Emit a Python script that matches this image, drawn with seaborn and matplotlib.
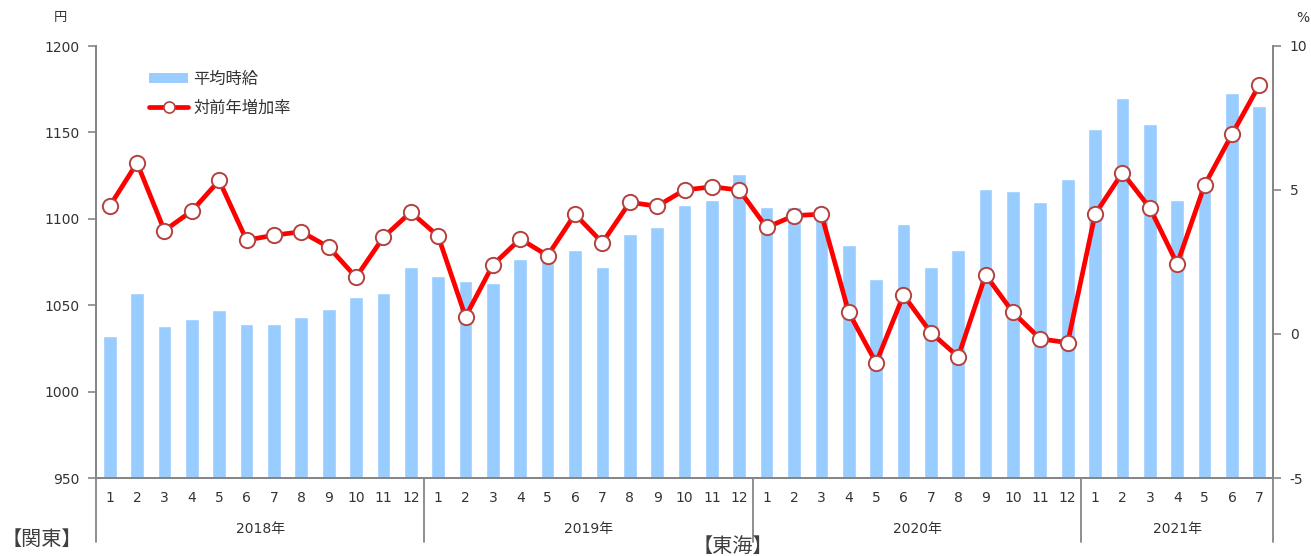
import numpy as np
import pandas as pd
import matplotlib
matplotlib.use("Agg")
import matplotlib.pyplot as plt
import matplotlib.transforms as mtransforms
from matplotlib.lines import Line2D
from matplotlib.patches import Patch
import seaborn as sns

# ---- data ----
years = ["2018年", "2019年", "2020年", "2021年"]
months_per_year = [12, 12, 12, 7]
month_labels = [str(m) for n in months_per_year for m in range(1, n + 1)]
category = [f"{y}-{m}" for y, n in zip(years, months_per_year) for m in range(1, n + 1)]

wage = [1032, 1057, 1038, 1042, 1047, 1039, 1039, 1043, 1048, 1055, 1057, 1072,
        1067, 1064, 1063, 1077, 1078, 1082, 1072, 1091, 1095, 1108, 1111, 1126,
        1107, 1107, 1107, 1085, 1065, 1097, 1072, 1082, 1117, 1116, 1110, 1123,
        1152, 1170, 1155, 1111, 1118, 1173, 1165]

growth = [4.44, 5.94, 3.59, 4.27, 5.33, 3.26, 3.43, 3.55, 3.02, 1.97, 3.36, 4.23,
          3.40, 0.60, 2.40, 3.30, 2.72, 4.16, 3.17, 4.57, 4.44, 5.00, 5.11, 5.00,
          3.70, 4.11, 4.16, 0.75, -1.00, 1.35, 0.05, -0.79, 2.05, 0.75, -0.17, -0.30,
          4.16, 5.60, 4.38, 2.43, 5.17, 6.93, 8.65]

left_ticks = [950, 1000, 1050, 1100, 1150, 1200]
right_ticks = [-5, 0, 5, 10]
legend_labels = ["平均時給", "対前年増加率"]

# ---- style ----
sns.set_theme(style="white")
plt.rcParams["font.family"] = ["DejaVu Sans", "Noto Sans CJK JP"]

BAR_C = "#99CCFF"
LINE_C = "#FF0000"
EDGE_C = "#B5413F"
GRAY = "#868686"
TXT = "#333333"
FS = 10

fig = plt.figure(figsize=(13.11, 5.56), dpi=100)
ax = fig.add_axes([96 / 1311, (556 - 478) / 556, (1273 - 96) / 1311, (478 - 46) / 556])

df = pd.DataFrame({"cat": category, "wage": wage, "growth": growth,
                   "pos": np.arange(len(category))})

sns.barplot(data=df, x="cat", y="wage", color=BAR_C, saturation=1, width=0.5,
            ax=ax, order=category)
ax.set_ylim(950, 1200)
ax.set_xlim(-0.5, len(category) - 0.5)
ax.set_yticks(left_ticks)
ax.set_yticklabels([str(t) for t in left_ticks], fontsize=FS, color=TXT)
ax.set_xticks(np.arange(len(category)))
ax.set_xticklabels(month_labels, fontsize=FS, color=TXT)
ax.tick_params(axis="x", length=0, pad=9)
ax.tick_params(axis="y", length=6, width=1.2, color=GRAY, direction="out", pad=6, left=True)
ax.set_xlabel("")
ax.set_ylabel("")

ax2 = ax.twinx()
sns.lineplot(data=df, x="pos", y="growth", ax=ax2, color=LINE_C, linewidth=3.4,
             marker="o", markersize=11, markerfacecolor="white",
             markeredgecolor=EDGE_C, markeredgewidth=1.4)
ax2.set_ylim(-5, 10)
ax2.set_xlim(-0.5, len(category) - 0.5)
ax2.set_yticks(right_ticks)
ax2.set_yticklabels([str(t) for t in right_ticks], fontsize=FS, color=TXT)
ax2.tick_params(axis="y", length=6, width=1.2, color=GRAY, direction="out", pad=6, right=True)
ax2.set_xlabel("")
ax2.set_ylabel("")

for a in (ax, ax2):
    a.spines["top"].set_visible(False)
    for s in ("left", "right", "bottom"):
        a.spines[s].set_color(GRAY)
        a.spines[s].set_linewidth(1.3)
    a.grid(False)

# year group separators and labels
trans = mtransforms.blended_transform_factory(ax.transData, ax.transAxes)
bounds = np.concatenate([[0], np.cumsum(months_per_year)]) - 0.5
for b in bounds:
    ax.add_line(Line2D([b, b], [0, -0.148], transform=trans, color=GRAY,
                       linewidth=1.3, clip_on=False))
for i, y in enumerate(years):
    mid = (bounds[i] + bounds[i + 1]) / 2
    ax.text(mid, -0.117, y, transform=trans, ha="center", va="center",
            fontsize=FS, color=TXT)

# unit labels
fig.text(60 / 1311, 1 - 18 / 556, "円", ha="center", va="center", fontsize=9.5, color=TXT)
fig.text(1303 / 1311, 1 - 18 / 556, "%", ha="center", va="center", fontsize=FS, color=TXT)

# region labels
fig.text(2 / 1311, 1 - 539 / 556, "【関東】", ha="left", va="center", fontsize=14.5, color="#404040")
fig.text(733 / 1311, 1 - 546 / 556, "【東海】", ha="center", va="center", fontsize=14.5, color="#404040")

# legend
handles = [Patch(facecolor=BAR_C, edgecolor="none"),
           Line2D([0], [0], color=LINE_C, linewidth=3.4, marker="o", markersize=8,
                  markerfacecolor="white", markeredgecolor=EDGE_C, markeredgewidth=1.2)]
leg = ax2.legend(handles, legend_labels, loc="upper left", bbox_to_anchor=(0.033, 0.975),
                 frameon=False, fontsize=11.7, handlelength=2.4, handleheight=0.6,
                 labelspacing=0.85, handletextpad=0.3)
for t in leg.get_texts():
    t.set_color(TXT)

fig.savefig("out.png", dpi=100)
